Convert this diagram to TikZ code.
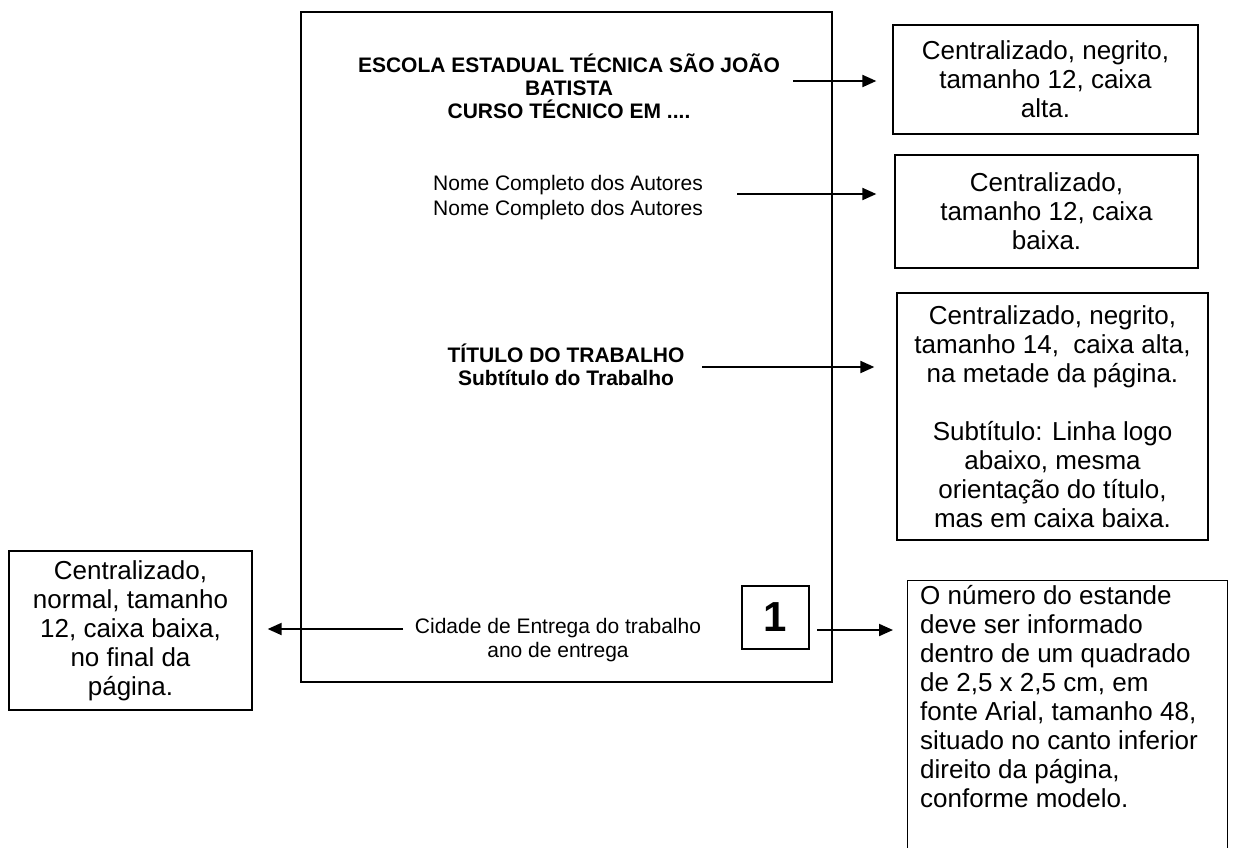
\documentclass[tikz,border=0pt]{standalone}
\usepackage{fontspec}
\setmainfont{Liberation Sans}
\usetikzlibrary{arrows.meta}
\begin{document}
\begin{tikzpicture}[x=1pt,y=-1pt,
  pagetxt/.style={font=\fontsize{21}{24.5}\selectfont, align=center, inner sep=0pt},
  boldtxt/.style={align=center, inner sep=0pt, font=\fontsize{21}{23}\selectfont\bfseries},
  note/.style={draw, line width=1.3pt, font=\fontsize{26}{29}\selectfont, align=center, inner sep=0pt},
  frame/.style={draw, line width=1.3pt, inner sep=0pt},
  arr/.style={line width=2pt, -{Triangle[length=14pt,width=12pt]}}
]
\useasboundingbox (0,0) rectangle (1236,847);
% page
\node[frame, minimum width=531pt, minimum height=670pt] (page) at (566.5,347) {};
\node[boldtxt] (escola) at (569,86) {ESCOLA ESTADUAL TÉCNICA SÃO JOÃO\\BATISTA\\CURSO TÉCNICO EM ....};
\node[pagetxt] (nome) at (568,197.5) {Nome Completo dos Autores\\Nome Completo dos Autores};
\node[boldtxt] (titulo) at (566,365) {TÍTULO DO TRABALHO\\Subtítulo do Trabalho};
\node[pagetxt] (cidade) at (558,640) {Cidade de Entrega do trabalho\\ano de entrega};
\node[frame, minimum width=67pt, minimum height=63pt, font=\fontsize{42}{42}\selectfont\bfseries] (num) at (775.5,617.5) {1};
% notes
\node[note, minimum width=305pt, minimum height=109pt] (b1) at (1045.5,79.5) {Centralizado, negrito,\\tamanho 12, caixa\\alta.};
\node[note, minimum width=303pt, minimum height=113pt] (b2) at (1046.5,211.5) {Centralizado,\\tamanho 12, caixa\\baixa.};
\node[note, minimum width=311pt, minimum height=247pt] (b3) at (1052.5,416.5) {Centralizado, negrito,\\tamanho 14,\ \ caixa alta,\\na metade da página.\\[29pt]Subtítulo: Linha logo\\abaixo, mesma\\orientação do título,\\mas em caixa baixa.};
\node[note, minimum width=243pt, minimum height=159pt] (b5) at (130.5,630.5) {Centralizado,\\normal, tamanho\\12, caixa baixa,\\no final da\\página.};
\node[frame, minimum width=320pt, minimum height=300pt, anchor=north west] (b4) at (907,580) {};
\node[font=\fontsize{26}{29}\selectfont, align=left, anchor=north west, inner sep=0pt] (t4) at (920,585) {O número do estande\\deve ser informado\\dentro de um quadrado\\de 2,5 x 2,5 cm, em\\fonte Arial, tamanho 48,\\situado no canto inferior\\direito da página,\\conforme modelo.};
% arrows
\coordinate (s1) at (793,81);
\coordinate (s2) at (737,194);
\coordinate (s3) at (702,367);
\coordinate (s4) at (817,630);
\coordinate (s5) at (403,629);
\draw[arr, shorten >=16pt] (s1) -- (s1 -| b1.west);
\draw[arr, shorten >=18pt] (s2) -- (s2 -| b2.west);
\draw[arr, shorten >=22pt] (s3) -- (s3 -| b3.west);
\draw[arr, shorten >=14pt] (s4) -- (s4 -| b4.west);
\draw[arr, shorten >=15pt] (s5) -- (s5 -| b5.east);
\end{tikzpicture}
\end{document}
